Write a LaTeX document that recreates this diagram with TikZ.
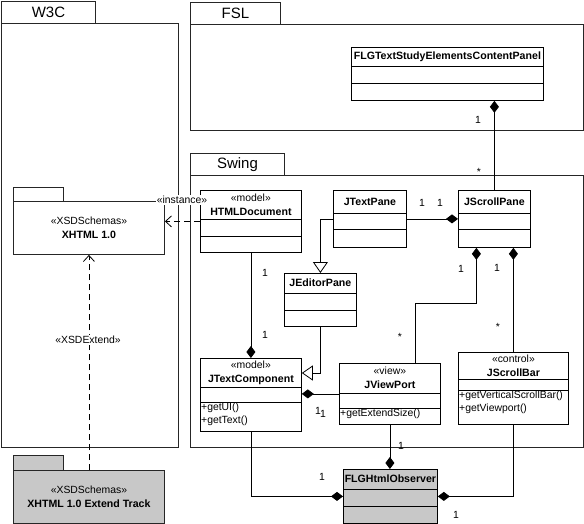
\documentclass[tikz,border=0pt]{standalone}
\usepackage{fontspec}
\setmainfont{Liberation Sans}
\usetikzlibrary{arrows.meta}
\definecolor{umlgrey}{RGB}{200,200,200}
\newcommand{\cname}[1]{{\fontsize{10.6}{13.5}\selectfont\bfseries #1}}
% name, x, y, width, header, attributes, operations, fill, header text
\newcommand{\umlclass}[9]{%
  \node[cls, fill=#8, minimum width=#4, minimum height={#5+#6+#7}] (#1) at (#2,#3) {};
  \draw[line width=.8pt] (#1.north west) ++(0,#5) -- ++(#4,0);
  \draw[line width=.8pt] (#1.north west) ++(0,{#5+#6}) -- ++(#4,0);
  \path (#1.north) ++(0,{#5/2}) node[hdr] {#9};
}
\begin{document}
\begin{tikzpicture}[x=1pt, y=-1pt,
  pkg/.style = {draw=black!85, line width=.9pt, anchor=north west, inner sep=0},
  title/.style = {font=\fontsize{15}{16}\selectfont},
  cls/.style = {draw, line width=.8pt, anchor=north west, inner sep=0},
  hdr/.style = {align=center, font=\fontsize{10.4}{14}\selectfont, inner sep=0},
  ops/.style = {anchor=north west, align=left, inner sep=1pt, font=\fontsize{10.4}{12.5}\selectfont},
  lbl/.style = {font=\fontsize{10.4}{12}\selectfont, inner sep=1pt},
  comp/.style = {line width=.8pt, -{Diamond[length=12pt,width=9pt]}},
  gen/.style = {line width=.8pt, -{Triangle[open,fill=white,length=11pt,width=15pt]}},
  dep/.style = {line width=.8pt, dash pattern=on 6pt off 4pt, -{Straight Barb[length=6pt,width=11pt]}}]
  \useasboundingbox (0,0) rectangle (584,524);
  % packages
  \node[pkg, title, minimum width=94, minimum height=22] (w3ctab) at (1,1) {W3C};
  \node[pkg, minimum width=177, minimum height=424] (w3c) at (1,23) {};
  \node[pkg, title, minimum width=90, minimum height=22] (fsltab) at (190,2) {FSL};
  \node[pkg, minimum width=393, minimum height=106] (fsl) at (190,24) {};
  \node[pkg, title, minimum width=94, minimum height=22] (swingtab) at (190,153) {Swing};
  \node[pkg, minimum width=393, minimum height=272] (swing) at (190,175) {};
  \node[pkg, minimum width=50, minimum height=14] (xhtmltab) at (13,187) {};
  \node[pkg, minimum width=151, minimum height=53, align=center, font=\fontsize{10.4}{14}\selectfont] (xhtml) at (13,201) {«XSDSchemas»\\\cname{XHTML 1.0}};
  \node[pkg, fill=umlgrey, minimum width=50, minimum height=15] (xtracktab) at (13,455) {};
  \node[pkg, fill=umlgrey, minimum width=151, minimum height=53, align=center, font=\fontsize{10.4}{14}\selectfont] (xtrack) at (13,470) {«XSDSchemas»\\\cname{XHTML 1.0 Extend Track}};
  % classes
  \umlclass{flgpanel}{351}{47}{192}{19}{17}{17}{white}{\cname{FLGTextStudyElementsContentPanel}}
  \umlclass{htmldoc}{200}{190}{101}{29}{17}{16}{white}{«model»\\\cname{HTMLDocument}}
  \umlclass{jtp}{333}{190}{73}{23}{16}{18}{white}{\cname{JTextPane}}
  \umlclass{jsp}{458}{190}{72}{23}{16}{18}{white}{\cname{JScrollPane}}
  \umlclass{jep}{284}{273}{72}{20}{17}{16}{white}{\cname{JEditorPane}}
  \umlclass{jtc}{200}{358}{101}{29}{15}{29}{white}{«model»\\\cname{JTextComponent}}
  \umlclass{jvp}{339}{363}{101}{30}{15}{16}{white}{«view»\\\cname{JViewPort}}
  \umlclass{jsb}{458}{352}{110}{27}{11}{34}{white}{«control»\\\cname{JScrollBar}}
  \umlclass{obs}{343}{469}{94}{20}{17}{17}{umlgrey}{\cname{FLGHtmlObserver}}
  \path (jtc.north west) ++(0,44) node[ops] {+getUI()\\+getText()};
  \path (jvp.north west) ++(0,45) node[ops] {+getExtendSize()};
  \path (jsb.north west) ++(0,38) node[ops] {+getVerticalScrollBar()\\+getViewport()};
  % connectors
  \draw[dep] (htmldoc.west) -- (htmldoc.west -| xhtml.east);
  \draw[dep] (xtrack.north) -- (xhtml.south);
  \draw[comp] (jsp.north) -- (jsp.north |- flgpanel.south);
  \draw[comp] (jtp.east) -- (jtp.east -| jsp.west);
  \draw[gen] (jtp.west) -| (jep.north);
  \draw[gen] (jep.south) |- ([yshift=-15pt]jtc.north east);
  \draw[comp] (htmldoc.south) -- (jtc.north);
  \draw[comp] (jvp.west) -- (jvp.west -| jtc.east);
  \draw[comp] ([xshift=25pt]jvp.north) -- ++(0,-60) -| ([xshift=-18pt]jsp.south);
  \draw[comp] (jsb.north) -- (jsb.north |- jsp.south);
  \draw[comp] (jvp.south) -- (jvp.south |- obs.north);
  \draw[comp] (jtc.south) |- (obs.west);
  \draw[comp] (jsb.south) |- (obs.east);
  % labels
  \node[lbl, fill=white] (inst) at (182,200) {«instance»};
  \node[lbl, fill=white] (ext) at (88,340) {«XSDExtend»};
  \node[lbl] (m1) at (478,120) {1};
  \node[lbl] (m2) at (479,172) {*};
  \node[lbl] (m3) at (422,203) {1};
  \node[lbl] (m4) at (440,203) {1};
  \node[lbl] (m5) at (265,273) {1};
  \node[lbl] (m6) at (265,335) {1};
  \node[lbl] (m7) at (461,269) {1};
  \node[lbl] (m8) at (497,268) {1};
  \node[lbl] (m9) at (400,337) {*};
  \node[lbl] (m10) at (498,327) {*};
  \node[lbl] (m11) at (318,411) {1};
  \node[lbl] (m12) at (323,414) {1};
  \node[lbl] (m13) at (401,446) {1};
  \node[lbl] (m14) at (322,477) {1};
  \node[lbl] (m15) at (456,515) {1};
\end{tikzpicture}
\end{document}
